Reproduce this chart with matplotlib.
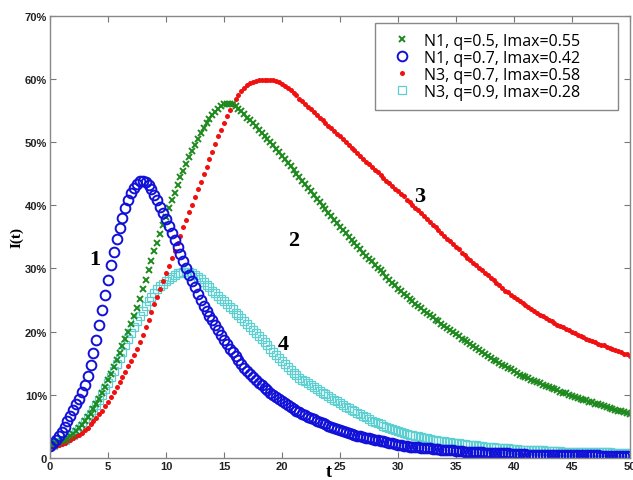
import numpy as np
import matplotlib
matplotlib.use("Agg")
import matplotlib.pyplot as plt
from matplotlib.ticker import FuncFormatter

# time grid, step 0.25
t = np.linspace(0, 50, 201)

# I(t) in percent
curve1 = [1.9, 2.4, 2.9, 3.5, 4.1, 4.9, 5.8, 6.7,
          7.6, 8.5, 9.4, 10.4, 11.6, 13.0, 14.7, 16.6,
          18.7, 21.0, 23.4, 25.8, 28.2, 30.5, 32.6, 34.6,
          36.4, 38.0, 39.5, 40.8, 41.9, 42.8, 43.4, 43.8,
          43.9, 43.7, 43.2, 42.5, 41.7, 40.8, 39.8, 38.8,
          37.8, 36.7, 35.6, 34.5, 33.4, 32.3, 31.2, 30.1,
          29.0, 28.0, 27.0, 26.0, 25.0, 24.1, 23.3, 22.5,
          21.8, 21.0, 20.2, 19.4, 18.7, 18.0, 17.3, 16.7,
          16.1, 15.5, 14.9, 14.3, 13.8, 13.3, 12.8, 12.3,
          11.9, 11.5, 11.1, 10.7, 10.3, 10.0, 9.6, 9.3,
          9.0, 8.7, 8.4, 8.1, 7.8, 7.5, 7.3, 7.0,
          6.8, 6.5, 6.3, 6.1, 5.9, 5.7, 5.5, 5.3,
          5.1, 4.9, 4.7, 4.6, 4.4, 4.2, 4.1, 3.9,
          3.8, 3.7, 3.5, 3.4, 3.3, 3.2, 3.1, 3.0,
          2.9, 2.8, 2.7, 2.6, 2.5, 2.4, 2.3, 2.2,
          2.1, 2.0, 1.9, 1.9, 1.8, 1.8, 1.7, 1.7,
          1.6, 1.6, 1.5, 1.5, 1.4, 1.4, 1.4, 1.3,
          1.3, 1.2, 1.2, 1.2, 1.1, 1.1, 1.1, 1.0,
          1.0, 1.0, 0.9, 0.9, 0.9, 0.9, 0.8, 0.8,
          0.8, 0.8, 0.7, 0.7, 0.7, 0.7, 0.7, 0.6,
          0.6, 0.6, 0.6, 0.6, 0.6, 0.5, 0.5, 0.5,
          0.5, 0.5, 0.5, 0.5, 0.5, 0.5, 0.5, 0.5,
          0.4, 0.4, 0.4, 0.4, 0.4, 0.4, 0.4, 0.4,
          0.4, 0.4, 0.4, 0.4, 0.4, 0.4, 0.3, 0.3,
          0.3, 0.3, 0.3, 0.3, 0.3, 0.3, 0.3, 0.3,
          0.3]

curve2 = [1.9, 2.1, 2.3, 2.5, 2.7, 2.9, 3.1, 3.4,
          3.8, 4.2, 4.7, 5.2, 5.8, 6.4, 7.0, 7.8,
          8.6, 9.4, 10.3, 11.3, 12.3, 13.3, 14.4, 15.5,
          16.6, 17.7, 18.9, 20.0, 21.2, 22.5, 23.8, 25.2,
          26.7, 28.2, 29.7, 31.2, 32.7, 34.1, 35.5, 36.8,
          38.2, 39.5, 40.8, 42.0, 43.2, 44.4, 45.5, 46.6,
          47.6, 48.6, 49.6, 50.5, 51.4, 52.2, 53.0, 53.7,
          54.3, 54.8, 55.3, 55.7, 56.0, 56.1, 56.1, 56.0,
          55.7, 55.3, 54.9, 54.4, 53.9, 53.5, 53.0, 52.5,
          52.0, 51.5, 51.0, 50.5, 50.0, 49.5, 48.9, 48.4,
          47.8, 47.3, 46.7, 46.2, 45.6, 45.0, 44.5, 43.9,
          43.3, 42.7, 42.2, 41.6, 41.0, 40.5, 39.9, 39.4,
          38.8, 38.3, 37.7, 37.2, 36.6, 36.1, 35.6, 35.0,
          34.5, 34.0, 33.5, 33.0, 32.5, 32.0, 31.5, 31.1,
          30.6, 30.1, 29.7, 29.2, 28.7, 28.2, 27.7, 27.3,
          26.8, 26.4, 26.0, 25.6, 25.2, 24.8, 24.4, 24.1,
          23.7, 23.3, 23.0, 22.6, 22.3, 21.9, 21.6, 21.2,
          20.9, 20.6, 20.2, 19.9, 19.6, 19.3, 18.9, 18.6,
          18.3, 18.0, 17.7, 17.4, 17.1, 16.8, 16.5, 16.2,
          15.8, 15.5, 15.3, 15.0, 14.7, 14.5, 14.2, 14.0,
          13.7, 13.5, 13.2, 13.0, 12.8, 12.6, 12.4, 12.2,
          12.0, 11.8, 11.6, 11.4, 11.2, 11.0, 10.9, 10.7,
          10.5, 10.3, 10.2, 10.0, 9.8, 9.7, 9.5, 9.4,
          9.2, 9.1, 8.9, 8.8, 8.6, 8.5, 8.4, 8.2,
          8.1, 7.9, 7.8, 7.6, 7.5, 7.4, 7.2, 7.1,
          7.0]

curve3 = [1.7, 1.8, 1.9, 2.1, 2.2, 2.4, 2.6, 2.8,
          3.1, 3.4, 3.7, 4.0, 4.4, 4.8, 5.3, 5.8,
          6.3, 6.9, 7.5, 8.2, 8.9, 9.6, 10.4, 11.2,
          12.0, 12.8, 13.6, 14.5, 15.4, 16.3, 17.3, 18.4,
          19.5, 20.7, 21.9, 23.1, 24.3, 25.5, 26.7, 28.0,
          29.2, 30.4, 31.6, 32.8, 34.0, 35.2, 36.5, 37.7,
          38.9, 40.1, 41.3, 42.5, 43.7, 44.9, 46.1, 47.3,
          48.5, 49.7, 50.9, 52.0, 53.1, 54.1, 55.1, 56.0,
          56.8, 57.5, 58.1, 58.6, 59.0, 59.3, 59.5, 59.7,
          59.8, 59.9, 59.9, 59.9, 59.9, 59.8, 59.7, 59.5,
          59.2, 58.9, 58.6, 58.2, 57.8, 57.4, 56.9, 56.5,
          56.0, 55.6, 55.2, 54.7, 54.3, 53.9, 53.5, 53.0,
          52.6, 52.2, 51.8, 51.3, 50.9, 50.5, 50.0, 49.6,
          49.1, 48.7, 48.2, 47.8, 47.3, 46.9, 46.5, 46.0,
          45.6, 45.2, 44.8, 44.3, 43.9, 43.5, 43.0, 42.6,
          42.2, 41.8, 41.4, 40.9, 40.5, 40.1, 39.6, 39.2,
          38.7, 38.3, 37.8, 37.4, 36.9, 36.5, 36.1, 35.6,
          35.2, 34.7, 34.3, 33.8, 33.4, 33.0, 32.5, 32.1,
          31.7, 31.3, 30.9, 30.5, 30.1, 29.7, 29.3, 28.9,
          28.5, 28.1, 27.7, 27.3, 26.9, 26.5, 26.2, 25.8,
          25.5, 25.2, 24.8, 24.5, 24.2, 23.9, 23.6, 23.3,
          23.0, 22.7, 22.4, 22.2, 21.9, 21.6, 21.4, 21.1,
          20.9, 20.7, 20.4, 20.2, 20.0, 19.8, 19.5, 19.3,
          19.1, 18.9, 18.7, 18.5, 18.3, 18.1, 17.9, 17.8,
          17.6, 17.4, 17.2, 17.1, 16.9, 16.7, 16.5, 16.4,
          16.2]

curve4 = [1.9, 2.1, 2.3, 2.5, 2.7, 2.9, 3.1, 3.4,
          3.7, 4.1, 4.6, 5.1, 5.7, 6.3, 6.9, 7.6,
          8.4, 9.2, 10.0, 10.9, 11.8, 12.8, 13.8, 14.8,
          15.8, 16.8, 17.8, 18.8, 19.8, 20.7, 21.6, 22.5,
          23.3, 24.1, 24.8, 25.5, 26.1, 26.7, 27.2, 27.6,
          28.0, 28.4, 28.7, 29.0, 29.2, 29.3, 29.4, 29.4,
          29.4, 29.2, 28.9, 28.6, 28.3, 27.9, 27.4, 27.0,
          26.5, 26.1, 25.7, 25.2, 24.8, 24.4, 23.9, 23.5,
          23.0, 22.6, 22.1, 21.7, 21.2, 20.7, 20.3, 19.8,
          19.3, 18.8, 18.3, 17.8, 17.3, 16.8, 16.3, 15.8,
          15.3, 14.8, 14.4, 13.9, 13.5, 13.1, 12.7, 12.4,
          12.1, 11.8, 11.5, 11.2, 10.9, 10.6, 10.3, 10.1,
          9.8, 9.5, 9.2, 9.0, 8.7, 8.4, 8.1, 7.9,
          7.6, 7.4, 7.1, 6.9, 6.6, 6.4, 6.2, 5.9,
          5.7, 5.5, 5.3, 5.1, 4.9, 4.7, 4.5, 4.4,
          4.2, 4.1, 4.0, 3.8, 3.7, 3.6, 3.5, 3.4,
          3.3, 3.2, 3.1, 3.0, 2.9, 2.8, 2.7, 2.7,
          2.6, 2.5, 2.5, 2.4, 2.3, 2.3, 2.2, 2.2,
          2.1, 2.1, 2.0, 2.0, 1.9, 1.9, 1.8, 1.8,
          1.7, 1.7, 1.6, 1.6, 1.5, 1.5, 1.5, 1.4,
          1.4, 1.4, 1.3, 1.3, 1.3, 1.3, 1.2, 1.2,
          1.2, 1.2, 1.2, 1.1, 1.1, 1.1, 1.1, 1.1,
          1.1, 1.0, 1.0, 1.0, 1.0, 1.0, 1.0, 1.0,
          1.0, 0.9, 0.9, 0.9, 0.9, 0.9, 0.9, 0.9,
          0.9, 0.9, 0.8, 0.8, 0.8, 0.8, 0.8, 0.8,
          0.8]

labels = ['N1, q=0.5, Imax=0.55', 'N1, q=0.7, Imax=0.42',
          'N3, q=0.7, Imax=0.58', 'N3, q=0.9, Imax=0.28']
curve_tags = ['1', '2', '3', '4']
tag_pos = [(3.9, 31.5), (21.0, 34.5), (31.9, 41.5), (20.1, 18.0)]

for c in (curve1, curve2, curve3, curve4):
    assert len(c) == len(t), len(c)

fig = plt.figure(figsize=(6.33, 4.81), dpi=100)
ax = fig.add_axes([0.079, 0.046, 0.916, 0.919])

# drawn bottom to top: cyan, red, green, blue
h4, = ax.plot(t, curve4, 's', ls='none', ms=6, mfc='none', mec='#5ccfd0', mew=0.9)
h3, = ax.plot(t, curve3, 'o', ls='none', ms=3.6, mfc='#f01010', mec='none')
h2, = ax.plot(t, curve2, 'x', ls='none', ms=5, mec='#1e8a1e', mew=1.4)
h1, = ax.plot(t, curve1, 'o', ls='none', ms=7, mfc='none', mec='#1010d8', mew=1.4)

# legend box stretched over a fixed span, like the original
leg = ax.legend([h2, h1, h3, h4], labels, loc='upper left',
                bbox_to_anchor=(0.560, 0.5, 0.419, 0.484), mode='expand',
                borderaxespad=0, fancybox=False, edgecolor='#888888',
                framealpha=1, borderpad=0.62, handlelength=2.2,
                handletextpad=0.25, labelspacing=0.06,
                prop={'family': 'Open Sans', 'size': 11.5})
leg.get_frame().set_linewidth(1.0)

for tag, (tx, ty) in zip(curve_tags, tag_pos):
    ax.text(tx, ty, tag, fontsize=16, fontweight='bold',
            family='Liberation Serif', ha='center', va='center')

ax.set_xlim(0, 50)
ax.set_ylim(0, 70)
ax.set_xticks(range(0, 51, 5))
ax.set_yticks(range(0, 71, 10))
ax.yaxis.set_major_formatter(FuncFormatter(lambda v, p: '0' if v == 0 else f'{v:.0f}%'))
ax.tick_params(direction='in', top=True, right=True, length=4,
               color='#777777', labelsize=8, pad=2)
for lab in ax.get_xticklabels() + ax.get_yticklabels():
    lab.set_family('Liberation Sans')
    lab.set_fontweight('bold')
    lab.set_color('#222222')
for s in ax.spines.values():
    s.set_color('#888888')
    s.set_linewidth(1.0)

ax.set_ylabel('I(t)', family='Liberation Serif', fontweight='bold',
              fontsize=11, labelpad=1)
fig.text(0.52, 0.0, 't', family='Liberation Serif', fontweight='bold',
         fontsize=13, ha='center', va='bottom')

fig.savefig('out.png', dpi=100)
